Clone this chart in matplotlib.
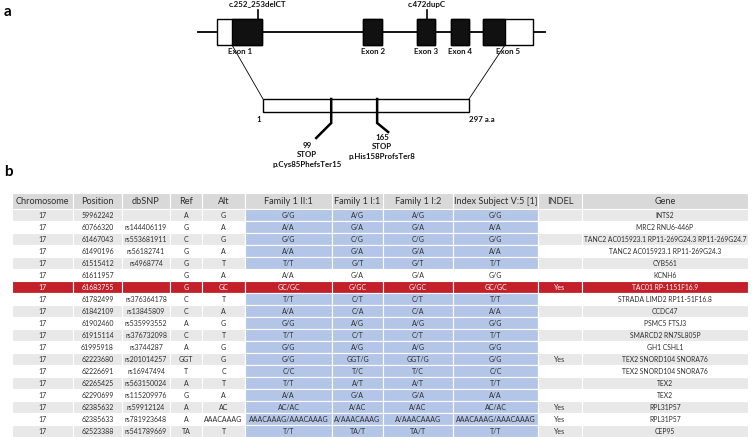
import matplotlib
matplotlib.use("Agg")
import matplotlib.pyplot as plt
from matplotlib.patches import Rectangle

plt.rcParams['font.family'] = ['Lato', 'DejaVu Sans']

# ---------------- data ----------------
columns = ["Chromosome", "Position", "dbSNP", "Ref", "Alt", "Family 1 II:1",
           "Family 1 I:1", "Family 1 I:2", "Index Subject V:5 [1]", "INDEL", "Gene"]
chromosome = ["17"] * 19
position = ["59962242", "60766320", "61467043", "61490196", "61515412", "61611957",
            "61683755", "61782499", "61842109", "61902460", "61915114", "61995918",
            "62223680", "62226691", "62265425", "62290699", "62385632", "62385633",
            "62523388"]
dbsnp = ["", "rs144406119", "rs553681911", "rs56182741", "rs4968774", "", "",
         "rs376364178", "rs13845809", "rs535993552", "rs376732098", "rs3744287",
         "rs201014257", "rs16947494", "rs563150024", "rs115209976", "rs59912124",
         "rs781923648", "rs541789669"]
ref = ["A", "G", "C", "G", "G", "G", "G", "C", "C", "A", "C", "A", "GGT", "T", "A",
       "G", "A", "A", "TA"]
alt = ["G", "A", "G", "A", "T", "A", "GC", "T", "A", "G", "T", "G", "G", "C", "T",
       "A", "AC", "AAACAAAG", "T"]
fam_II1 = ["G/G", "A/A", "G/G", "A/A", "T/T", "A/A", "GC/GC", "T/T", "A/A", "G/G",
           "T/T", "G/G", "G/G", "C/C", "T/T", "A/A", "AC/AC", "AAACAAAG/AAACAAAG", "T/T"]
fam_I1 = ["A/G", "G/A", "C/G", "G/A", "G/T", "G/A", "G/GC", "C/T", "C/A", "A/G",
          "C/T", "A/G", "GGT/G", "T/C", "A/T", "G/A", "A/AC", "A/AAACAAAG", "TA/T"]
fam_I2 = ["A/G", "G/A", "C/G", "G/A", "G/T", "G/A", "G/GC", "C/T", "C/A", "A/G",
          "C/T", "A/G", "GGT/G", "T/C", "A/T", "G/A", "A/AC", "A/AAACAAAG", "TA/T"]
index_v5 = ["G/G", "A/A", "G/G", "A/A", "T/T", "G/G", "GC/GC", "T/T", "A/A", "G/G",
            "T/T", "G/G", "G/G", "C/C", "T/T", "A/A", "AC/AC", "AAACAAAG/AAACAAAG", "T/T"]
indel = ["", "", "", "", "", "", "Yes", "", "", "", "", "", "Yes", "", "", "", "Yes",
         "Yes", "Yes"]
gene = ["INTS2", "MRC2 RNU6-446P",
        "TANC2 AC015923.1 RP11-269G24.3 RP11-269G24.7",
        "TANC2 AC015923.1 RP11-269G24.3", "CYB561", "KCNH6", "TAC01 RP-1151F16.9",
        "STRADA LIMD2 RP11-51F16.8", "CCDC47", "PSMC5 FTSJ3", "SMARCD2 RN7SL805P",
        "GH1 CSHL1", "TEX2 SNORD104 SNORA76", "TEX2 SNORD104 SNORA76", "TEX2", "TEX2",
        "RPL31P57", "RPL31P57", "CEP95"]

exon_labels = ["Exon 1", "Exon 2", "Exon 3", "Exon 4", "Exon 5"]
mutation_labels = ["c.252_253delCT", "c.472dupC"]
protein_length = 297
stop_positions = [99, 165]
stop_labels = ["p.Cys85PhefsTer15", "p.His158ProfsTer8"]

# ---------------- layout ----------------
W, H = 752, 437
fig = plt.figure(figsize=(W / 100, H / 100), dpi=100)
ax = fig.add_axes([0, 0, 1, 1])
ax.set_xlim(0, W)
ax.set_ylim(H, 0)
ax.axis("off")

BOLD = dict(fontweight="bold", fontsize=5.7, color="#111111")

ax.text(4, 12, "a", fontsize=11, fontweight="bold", va="center", ha="left")
ax.text(4, 172, "b", fontsize=11, fontweight="bold", va="center", ha="left")

# gene structure
ax.plot([198, 545], [32, 32], color="black", lw=1.3, zorder=1)
ey, eh = 19, 26
# exon boxes: (x0, x1, coding_x0, coding_x1)
exon_geom = [(217, 262, 232, 262), (363, 382, 363, 382), (417, 435, 417, 435),
             (451, 469, 451, 469), (483, 533, 483, 505)]
exon_label_x = [240, 373, 426, 460, 508]
for (x0, x1, c0, c1), lab, lx in zip(exon_geom, exon_labels, exon_label_x):
    ax.add_patch(Rectangle((x0, ey), x1 - x0, eh, facecolor="white",
                           edgecolor="black", lw=1.0, zorder=2))
    ax.add_patch(Rectangle((c0, ey), c1 - c0, eh, facecolor="#111111",
                           edgecolor="black", lw=1.0, zorder=3))
    ax.text(lx, 52, lab, ha="center", va="center", **BOLD)

for mx, lab in zip([258, 427], mutation_labels):
    ax.plot([mx, mx], [10, ey], color="black", lw=1.2)
    ax.text(mx, 4, lab, ha="center", va="center", **BOLD)

# protein
px0, px1, py, ph = 263, 469, 99, 13
ax.add_patch(Rectangle((px0, py), px1 - px0, ph, facecolor="white",
                       edgecolor="black", lw=1.0, zorder=2))
ax.plot([232, px0], [45, py], color="black", lw=0.6)
ax.plot([505, px1], [45, py], color="black", lw=0.6)
ax.text(259, 119, "1", ha="center", va="center", **BOLD)
ax.text(482, 119, "%d a.a" % protein_length, ha="center", va="center", **BOLD)


def aa_x(p):
    return px0 + (p - 1) / (protein_length - 1) * (px1 - px0)


offs = [(-15, 138, 307, 145), (11, 132, 382, 137)]
for pos, lab, (dx, ey2, lx, ly) in zip(stop_positions, stop_labels, offs):
    sx = aa_x(pos)
    ax.plot([sx, sx, sx + dx], [py, 123, ey2], color="black", lw=1.8,
            solid_joinstyle="miter", zorder=3)
    ax.text(lx, ly, str(pos), ha="center", va="center", **BOLD)
    ax.text(lx, ly + 9.5, "STOP", ha="center", va="center", **BOLD)
    ax.text(lx, ly + 19, lab, ha="center", va="center", **BOLD)

# ---------------- table ----------------
col_edges = [12, 73, 122, 170, 202, 245, 332, 383, 453, 538, 582, 748]
header_top, header_bot = 193, 208.5
row_top0, row_h = 209, 12.0
C_HEAD = "#d9d9d9"
C_GRAY = "#e8e8e8"
C_BLUE = "#b4c6e7"
C_RED = "#c3202a"
TXT = "#2e2e2e"
red_row = 6
plain_geno_row = 5
geno_cols = [5, 6, 7, 8]

for j, name in enumerate(columns):
    x0, x1 = col_edges[j], col_edges[j + 1]
    ax.add_patch(Rectangle((x0, header_top), x1 - x0, header_bot - header_top,
                           facecolor=C_HEAD, edgecolor="white", lw=0.8))
    ax.text((x0 + x1) / 2, (header_top + header_bot) / 2 + 0.5, name,
            ha="center", va="center", fontsize=6.6, color=TXT)

table_cols = [chromosome, position, dbsnp, ref, alt, fam_II1, fam_I1, fam_I2,
              index_v5, indel, gene]
for i in range(len(position)):
    y0 = row_top0 + i * row_h
    for j, colvals in enumerate(table_cols):
        x0, x1 = col_edges[j], col_edges[j + 1]
        if i == red_row:
            fc, tc = C_RED, "white"
        elif j in geno_cols and i != plain_geno_row:
            fc, tc = C_BLUE, TXT
        else:
            fc, tc = (C_GRAY if i % 2 == 0 else "white"), TXT
        ax.add_patch(Rectangle((x0, y0), x1 - x0, row_h, facecolor=fc,
                               edgecolor="white", lw=0.8))
        fs = 4.85 if j == len(table_cols) - 1 else 5.0
        ax.text((x0 + x1) / 2, y0 + row_h / 2 + 0.4, colvals[i], ha="center",
                va="center", fontsize=fs, color=tc)

fig.savefig("out.png", dpi=100)
